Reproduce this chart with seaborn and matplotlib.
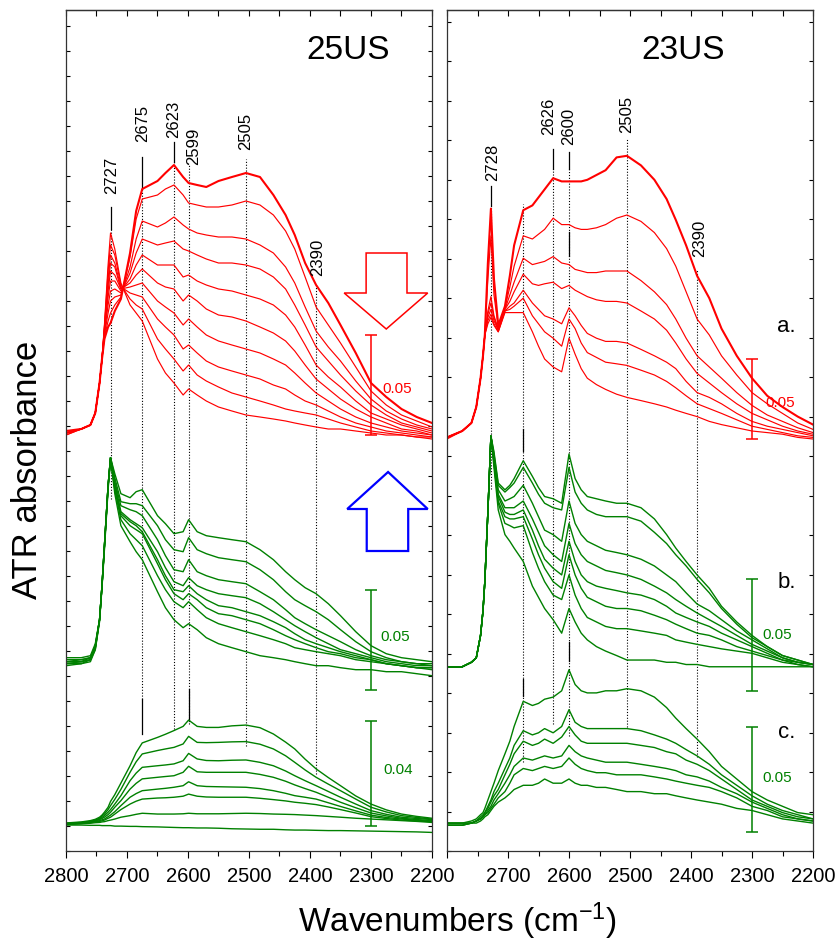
import matplotlib
matplotlib.use("Agg")
import matplotlib.pyplot as plt
from matplotlib.patches import Polygon
from matplotlib.ticker import MultipleLocator
import pandas as pd
import seaborn as sns

plt.rcParams["font.family"] = ["Liberation Sans", "DejaVu Sans"]
plt.rcParams["mathtext.fontset"] = "custom"
plt.rcParams["mathtext.rm"] = "Liberation Sans"
plt.rcParams["mathtext.it"] = "Liberation Sans:italic"

# ---------------------------------------------------------------- data
# wavenumber grids (cm-1) on which the spectra are tabulated
WN_25US = [2800, 2775, 2760, 2752, 2745, 2741, 2737, 2731, 2727, 2720, 2710, 2695,
           2685, 2675, 2650, 2637, 2623, 2608, 2599, 2585, 2570, 2550, 2528, 2505,
           2482, 2460, 2440, 2425, 2408, 2390, 2370, 2350, 2325, 2300, 2275, 2250,
           2225, 2200]
WN_23US = [2800, 2775, 2760, 2752, 2745, 2741, 2738, 2733, 2728, 2723, 2716, 2705,
           2697, 2690, 2675, 2660, 2650, 2640, 2626, 2612, 2600, 2590, 2580, 2570,
           2555, 2540, 2522, 2505, 2482, 2460, 2440, 2425, 2408, 2390, 2370, 2350,
           2325, 2300, 2275, 2250, 2225, 2200]

# ATR absorbance (x 0.001) above the baseline of each stack
ABS_25US_A = [
    [4, 5, 7, 13, 28, 40, 50, 56, 58, 64, 70, 93, 114, 125, 129, 133, 137, 131, 128, 127, 126, 129, 131, 133, 131, 122, 112, 102, 88, 77, 68, 57, 43, 28, 21, 15, 11, 8],
    [3, 5, 7, 13, 28, 40, 51, 59, 63, 67, 71, 91, 110, 120, 122, 125, 127, 122, 118, 117, 116, 116, 117, 119, 117, 112, 104, 95, 81, 66, 57, 48, 36, 24, 17, 12, 9, 6],
    [3, 5, 7, 13, 28, 40, 52, 63, 69, 71, 72, 86, 100, 109, 106, 108, 111, 107, 105, 103, 102, 101, 101, 100, 97, 93, 86, 78, 66, 54, 46, 39, 29, 20, 14, 10, 7, 5],
    [3, 5, 7, 13, 28, 40, 53, 67, 74, 75, 73, 83, 93, 100, 97, 98, 99, 95, 94, 92, 90, 88, 88, 87, 85, 81, 75, 67, 57, 46, 39, 32, 24, 17, 12, 8, 6, 4],
    [3, 5, 7, 13, 28, 40, 54, 71, 79, 79, 74, 80, 87, 92, 87, 87, 87, 81, 82, 79, 77, 75, 74, 72, 70, 67, 62, 56, 47, 37, 31, 26, 19, 13, 10, 7, 5, 3],
    [3, 5, 7, 13, 28, 40, 54, 74, 84, 82, 75, 78, 82, 85, 78, 76, 75, 69, 72, 69, 65, 62, 61, 59, 56, 53, 49, 44, 37, 30, 25, 20, 15, 11, 8, 5, 4, 2],
    [3, 5, 7, 13, 28, 40, 55, 77, 88, 86, 75, 76, 77, 78, 69, 66, 63, 57, 60, 56, 52, 49, 47, 45, 43, 40, 37, 33, 28, 23, 19, 15, 11, 8, 6, 4, 3, 2],
    [3, 5, 7, 13, 28, 40, 56, 80, 92, 88, 76, 73, 72, 71, 60, 56, 52, 45, 47, 43, 39, 36, 34, 32, 30, 27, 25, 22, 19, 17, 14, 11, 8, 6, 4, 3, 2, 1],
    [2, 5, 7, 13, 28, 40, 56, 84, 97, 92, 77, 70, 67, 65, 50, 45, 40, 34, 37, 32, 29, 26, 23, 21, 19, 17, 15, 14, 13, 12, 10, 8, 6, 4, 3, 2, 1, 1],
    [2, 5, 7, 13, 28, 40, 57, 87, 103, 95, 78, 67, 63, 59, 40, 33, 28, 22, 25, 22, 19, 16, 14, 12, 11, 10, 9, 8, 7, 6, 5, 5, 4, 3, 2, 2, 1, 0],
]
ABS_25US_B = [
    [9, 9, 10, 16, 28, 45, 65, 95, 109, 101, 91, 89, 92, 93, 80, 76, 71, 72, 78, 72, 70, 69, 68, 67, 63, 58, 52, 48, 44, 41, 36, 30, 22, 15, 11, 9, 8, 7],
    [8, 8, 9, 15, 28, 45, 65, 95, 109, 99, 87, 86, 86, 85, 75, 68, 63, 62, 69, 63, 61, 59, 58, 57, 53, 48, 42, 38, 35, 32, 28, 23, 17, 12, 9, 7, 6, 6],
    [7, 8, 9, 15, 28, 45, 65, 95, 109, 97, 85, 83, 82, 80, 68, 60, 53, 52, 58, 52, 50, 48, 47, 46, 42, 38, 33, 29, 26, 23, 20, 17, 13, 10, 8, 7, 6, 5],
    [7, 7, 9, 14, 28, 45, 65, 95, 109, 96, 82, 78, 76, 74, 62, 54, 47, 45, 49, 45, 43, 41, 40, 39, 36, 32, 28, 25, 22, 19, 16, 13, 11, 9, 7, 6, 5, 5],
    [7, 7, 8, 14, 28, 45, 65, 95, 109, 95, 81, 77, 75, 72, 58, 50, 43, 42, 45, 41, 38, 35, 34, 32, 30, 27, 24, 21, 18, 16, 14, 12, 10, 8, 6, 5, 4, 4],
    [6, 7, 8, 14, 28, 45, 65, 95, 109, 94, 80, 75, 73, 71, 56, 48, 41, 38, 41, 38, 34, 31, 30, 28, 26, 23, 20, 18, 16, 14, 12, 11, 9, 8, 6, 5, 4, 4],
    [6, 6, 8, 13, 28, 45, 64, 94, 109, 93, 78, 71, 68, 65, 50, 43, 37, 34, 37, 33, 29, 26, 24, 22, 20, 18, 16, 14, 13, 12, 11, 10, 8, 7, 6, 5, 4, 3],
    [5, 6, 7, 13, 27, 44, 63, 93, 108, 91, 75, 67, 62, 58, 42, 34, 28, 24, 26, 23, 19, 16, 14, 12, 10, 9, 8, 7, 6, 5, 5, 4, 3, 3, 2, 2, 1, 0],
]
ABS_25US_C = [
    [4.2, 4.6, 5.1, 5.6, 6.4, 7.2, 8.3, 10.2, 12.4, 15.0, 19.4, 26.0, 31.0, 34.7, 36.8, 38.0, 39.4, 41.0, 43.4, 41.0, 40.6, 40.6, 41.2, 41.5, 40.5, 38.1, 35.0, 32.4, 28.5, 24.8, 21.5, 18.4, 14.5, 11.4, 9.2, 7.6, 6.7, 6.0],
    [4.1, 4.4, 4.8, 5.3, 6.0, 6.8, 7.6, 9.3, 10.8, 13.2, 17.0, 23.5, 27.5, 30.5, 31.8, 32.4, 33.0, 34.3, 37.2, 34.9, 34.8, 34.9, 35.1, 35.2, 34.2, 32.4, 29.8, 27.3, 24.4, 21.6, 19.0, 16.5, 13.3, 10.2, 8.4, 7.0, 6.3, 5.7],
    [3.9, 4.3, 4.7, 5.2, 5.7, 6.3, 7.0, 8.3, 9.3, 11.4, 14.6, 20.3, 23.2, 25.4, 26.0, 26.3, 26.7, 27.9, 30.7, 28.6, 28.0, 27.9, 28.1, 28.2, 27.3, 26.0, 24.0, 22.2, 20.3, 18.4, 16.2, 14.0, 11.4, 8.9, 7.5, 6.4, 5.9, 5.5],
    [3.8, 4.2, 4.6, 5.0, 5.5, 5.9, 6.4, 7.4, 8.3, 10.2, 12.7, 17.1, 19.3, 21.0, 21.6, 21.9, 22.2, 23.5, 25.8, 23.7, 23.5, 23.5, 23.5, 23.5, 22.7, 21.6, 20.1, 18.7, 17.3, 15.9, 14.0, 12.1, 10.0, 8.0, 6.9, 6.0, 5.5, 5.1],
    [3.8, 4.1, 4.4, 4.8, 5.1, 5.4, 5.7, 6.6, 7.2, 8.5, 10.8, 14.0, 15.4, 16.5, 17.1, 17.4, 17.8, 18.4, 19.9, 18.4, 18.1, 18.0, 17.9, 17.8, 17.3, 16.5, 15.5, 14.6, 14.0, 13.3, 11.9, 10.5, 8.8, 7.2, 6.3, 5.7, 5.2, 4.8],
    [3.7, 4.0, 4.3, 4.6, 4.8, 5.0, 5.3, 6.0, 6.4, 7.6, 9.3, 11.4, 12.5, 13.3, 13.7, 13.8, 14.0, 14.4, 15.2, 14.4, 14.1, 14.0, 14.0, 14.0, 13.6, 13.1, 12.6, 12.1, 11.7, 11.2, 10.3, 9.3, 8.0, 6.6, 5.9, 5.3, 5.0, 4.7],
    [3.6, 3.9, 4.1, 4.3, 4.4, 4.6, 4.7, 5.1, 5.3, 5.7, 6.4, 7.0, 7.5, 7.9, 7.6, 7.6, 7.6, 7.7, 7.9, 7.7, 7.7, 7.7, 7.8, 7.9, 7.8, 7.6, 7.5, 7.4, 7.2, 7.0, 6.7, 6.4, 6.0, 5.7, 5.4, 5.1, 4.8, 4.4],
    [3.4, 3.4, 3.3, 3.3, 3.3, 3.2, 3.2, 3.2, 3.2, 3.0, 3.0, 2.9, 2.9, 2.8, 2.7, 2.6, 2.5, 2.4, 2.4, 2.3, 2.3, 2.2, 2.0, 1.9, 1.8, 1.8, 1.6, 1.5, 1.5, 1.4, 1.3, 1.3, 1.2, 1.1, 1.0, 0.9, 0.8, 0.6],
]
ABS_23US_A = [
    [1, 5, 10, 20, 38, 52, 65, 110, 144, 100, 71, 83, 102, 121, 143, 146, 151, 156, 163, 161, 161, 161, 161, 162, 165, 168, 176, 177, 171, 162, 150, 137, 121, 102, 88, 69, 52, 38, 27, 20, 14, 9],
    [1, 5, 10, 20, 38, 52, 65, 100, 127, 90, 70, 82, 95, 108, 127, 125, 128, 131, 138, 134, 134, 132, 131, 131, 132, 134, 138, 140, 136, 129, 119, 108, 92, 75, 65, 52, 40, 29, 22, 16, 10, 6],
    [1, 5, 10, 20, 38, 52, 65, 80, 89, 77, 69, 81, 90, 98, 113, 109, 110, 111, 114, 110, 109, 106, 105, 104, 104, 105, 105, 105, 99, 92, 84, 75, 63, 52, 45, 38, 29, 21, 15, 11, 7, 4],
    [1, 5, 10, 20, 38, 52, 65, 78, 85, 76, 68, 81, 86, 92, 103, 97, 96, 97, 98, 94, 96, 93, 91, 89, 87, 86, 86, 85, 80, 75, 68, 60, 50, 41, 35, 29, 22, 16, 12, 8, 5, 3],
    [1, 5, 10, 20, 38, 52, 65, 76, 81, 74, 68, 80, 83, 85, 93, 85, 81, 77, 75, 72, 82, 77, 71, 66, 63, 61, 61, 60, 56, 52, 48, 44, 36, 29, 26, 22, 16, 11, 8, 6, 4, 2],
    [1, 5, 10, 20, 38, 52, 65, 74, 78, 72, 67, 80, 81, 83, 88, 77, 72, 67, 63, 58, 75, 69, 60, 54, 51, 48, 47, 46, 43, 40, 36, 32, 27, 22, 19, 16, 12, 8, 6, 4, 2, 1],
    [0, 5, 10, 20, 38, 52, 65, 72, 76, 71, 67, 79, 79, 79, 79, 67, 58, 50, 45, 42, 63, 53, 44, 38, 34, 31, 28, 26, 24, 22, 20, 18, 16, 14, 11, 9, 7, 5, 4, 3, 1, 0],
]
ABS_23US_B = [
    [1, 1, 3, 5, 15, 26, 39, 70, 104, 97, 83, 80, 82, 85, 93, 86, 81, 77, 76, 74, 96, 85, 80, 77, 76, 75, 74, 74, 72, 67, 60, 54, 48, 42, 36, 28, 21, 15, 10, 6, 4, 2],
    [1, 1, 3, 5, 15, 26, 39, 70, 104, 96, 82, 79, 81, 83, 90, 83, 78, 74, 72, 71, 90, 79, 74, 71, 69, 68, 68, 68, 66, 61, 56, 51, 46, 40, 34, 27, 20, 14, 10, 6, 4, 2],
    [1, 1, 3, 5, 15, 26, 39, 70, 104, 94, 80, 75, 76, 77, 82, 74, 68, 62, 60, 57, 75, 65, 60, 57, 55, 53, 52, 51, 49, 46, 42, 39, 34, 29, 26, 22, 17, 13, 9, 5, 3, 2],
    [1, 1, 3, 5, 15, 26, 39, 70, 104, 94, 78, 72, 72, 72, 75, 67, 61, 55, 51, 48, 65, 56, 51, 48, 46, 44, 43, 42, 40, 37, 34, 31, 28, 25, 22, 19, 15, 11, 8, 5, 3, 2],
    [1, 1, 3, 5, 15, 26, 39, 70, 104, 93, 77, 70, 69, 69, 71, 62, 55, 49, 45, 42, 57, 48, 42, 39, 37, 36, 35, 34, 33, 31, 28, 25, 23, 21, 19, 16, 13, 10, 7, 4, 3, 2],
    [1, 1, 3, 5, 15, 26, 39, 70, 104, 92, 75, 68, 67, 67, 68, 58, 51, 45, 39, 36, 51, 42, 36, 32, 30, 28, 27, 27, 26, 24, 22, 20, 18, 16, 15, 13, 10, 8, 6, 4, 2, 1],
    [1, 1, 3, 5, 15, 26, 39, 70, 104, 92, 74, 65, 64, 63, 64, 52, 45, 39, 33, 31, 42, 33, 27, 23, 21, 19, 18, 18, 17, 16, 15, 13, 12, 11, 10, 9, 8, 7, 5, 3, 2, 1],
    [1, 1, 3, 5, 15, 26, 39, 70, 104, 90, 71, 60, 57, 54, 48, 37, 32, 27, 22, 16, 27, 21, 16, 13, 10, 8, 6, 4, 4, 4, 3, 3, 2, 2, 1, 1, 1, 1, 1, 1, 1, 1],
]
ABS_23US_C = [
    [2, 2, 3, 4, 6, 7, 9, 13, 17, 21, 27, 35, 41, 48, 60, 58, 59, 61, 62, 65, 75, 68, 65, 64, 64, 65, 65, 66, 65, 62, 57, 52, 47, 42, 36, 29, 23, 17, 13, 10, 7, 6],
    [2, 2, 2, 3, 5, 6, 7, 10, 13, 17, 21, 28, 33, 39, 46, 44, 45, 47, 45, 48, 56, 50, 48, 47, 47, 47, 47, 47, 46, 44, 42, 40, 37, 34, 30, 25, 20, 15, 11, 8, 6, 4],
    [2, 2, 2, 3, 4, 5, 7, 9, 12, 15, 18, 25, 30, 35, 41, 39, 40, 42, 40, 43, 48, 44, 41, 40, 40, 40, 40, 40, 39, 38, 36, 35, 32, 30, 27, 23, 18, 13, 10, 7, 5, 4],
    [1, 1, 2, 3, 4, 5, 6, 8, 10, 13, 16, 21, 25, 29, 33, 32, 33, 34, 33, 34, 39, 36, 34, 33, 32, 31, 31, 31, 30, 29, 28, 27, 25, 24, 22, 19, 16, 12, 9, 6, 4, 3],
    [1, 1, 2, 3, 4, 5, 6, 7, 9, 11, 14, 17, 21, 25, 28, 27, 28, 29, 28, 29, 33, 30, 28, 27, 26, 26, 25, 25, 25, 24, 23, 22, 21, 20, 19, 17, 14, 10, 8, 5, 4, 3],
    [1, 1, 2, 2, 3, 4, 5, 6, 8, 10, 12, 14, 16, 18, 20, 20, 21, 23, 21, 21, 23, 21, 20, 20, 19, 19, 18, 17, 17, 16, 16, 15, 14, 13, 12, 11, 9, 8, 6, 4, 3, 2],
]

# scale bars (absorbance)
SCALE_25US = {"a": 0.05, "b": 0.05, "c": 0.04}
SCALE_23US = {"a": 0.05, "b": 0.05, "c": 0.05}

# band positions (cm-1)
BANDS_25US = [2727, 2675, 2623, 2599, 2505, 2390]
BANDS_23US = [2728, 2675, 2626, 2600, 2505, 2390]

SAMPLES = ["25US", "23US"]
X_TICKS = [2800, 2700, 2600, 2500, 2400, 2300, 2200]

for grid, group in [(WN_25US, ABS_25US_A + ABS_25US_B + ABS_25US_C),
                    (WN_23US, ABS_23US_A + ABS_23US_B + ABS_23US_C)]:
    for spec in group:
        assert len(spec) == len(grid), (len(spec), len(grid))

# ---------------------------------------------------------------- styling
RED, GREEN, BLUE = "#ff0000", "#008000", "#0000ff"
Y_SPAN = 841.0          # vertical axis runs in screen pixels of the panel

stacks = [
    # panel, spectra, wn grid, colour, baseline, px per 0.001, widths, bar, bar bottom, bar text
    (0, ABS_25US_A, WN_25US, RED, 412.0, 2.0, (1.5, 0.85), SCALE_25US["a"], 416, (2257, 463)),
    (0, ABS_25US_B, WN_25US, GREEN, 175.3, 2.0, (1.0, 1.0), SCALE_25US["b"], 161, (2261, 215)),
    (0, ABS_25US_C, WN_25US, GREEN, 17.0, 2.625, (1.0, 1.0), SCALE_25US["c"], 25, (2256, 82)),
    (1, ABS_23US_A, WN_23US, RED, 412.0, 1.6, (1.5, 0.85), SCALE_23US["a"], 412, (2254, 449)),
    (1, ABS_23US_B, WN_23US, GREEN, 182.0, 2.24, (1.0, 1.0), SCALE_23US["b"], 160, (2259, 217)),
    (1, ABS_23US_C, WN_23US, GREEN, 23.7, 2.1, (1.0, 1.0), SCALE_23US["c"], 19, (2259, 74)),
]

# band marker geometry: label (x, y), dotted span, solid dashes
band_style = [
    {2727: ((2725, 677), (352, 622), [(622, 644)]),
     2675: ((2675, 729), (152, 662), [(662, 694), (117, 152)]),
     2623: ((2623, 733), (122, 689), [(689, 709)]),
     2599: ((2590, 706), (127, 687), [(130, 162)]),
     2505: ((2505, 721), (105, 692), []),
     2390: ((2387, 595), (77, 567), [])},
    {2728: ((2725, 690), (362, 645), [(645, 665)]),
     2675: (None, (89, 647), [(400, 422), (155, 172)]),
     2626: ((2634, 736), (127, 682), [(682, 702)]),
     2600: ((2601, 726), (115, 682), [(682, 699), (595, 619), (190, 209)]),
     2505: ((2506, 738), (124, 712), []),
     2390: ((2386, 614), (94, 582), [])},
]

fig = plt.figure(figsize=(8.4, 9.45), dpi=100)
axes = [fig.add_axes([66 / 840, 93 / 945, 366 / 840, 841 / 945]),
        fig.add_axes([447 / 840, 93 / 945, 366 / 840, 841 / 945])]

for panel, spectra, grid, color, base, gain, (lw_top, lw), bar, bar_y0, bar_txt in stacks:
    ax = axes[panel]
    rows = []
    for i, spec in enumerate(spectra):
        for w, a in zip(grid, spec):
            rows.append({"wn": w, "y": base + gain * a, "spectrum": i})
    df = pd.DataFrame(rows)
    for i, sub in df.groupby("spectrum"):
        sns.lineplot(data=sub, x="wn", y="y", ax=ax, color=color,
                     linewidth=lw_top if i == 0 else lw, sort=False,
                     estimator=None, legend=False)
    # scale bar
    length = bar * 1000 * gain
    ax.errorbar([2300], [bar_y0 + length / 2], yerr=[length / 2], color=color,
                capsize=4, elinewidth=1.1, capthick=1.1, fmt="none")
    ax.text(bar_txt[0], bar_txt[1], f"{bar:.2f}", color=color, fontsize=11,
            ha="center", va="center")

for ax, bands, styles in zip(axes, [BANDS_25US, BANDS_23US], band_style):
    for b in bands:
        lab, (d0, d1), solids = styles[b]
        ax.plot([b, b], [d0, d1], color="black", lw=0.8, ls=(0, (1, 1.6)), zorder=1)
        for s0, s1 in solids:
            ax.plot([b, b], [s0, s1], color="black", lw=0.9, zorder=1)
        if lab is not None:
            ax.text(lab[0], lab[1], str(b), rotation=90, fontsize=12,
                    ha="center", va="center")

# sample names and stack letters
axes[0].text(2338, 802, SAMPLES[0], fontsize=24, ha="center", va="center")
axes[1].text(2413, 802, SAMPLES[1], fontsize=24, ha="center", va="center")
for letter, yy in zip(["a.", "b.", "c."], [525, 270, 119]):
    axes[1].text(2243, yy, letter, fontsize=16, ha="center", va="center")

# direction arrows
down = [(2308, 598), (2241, 598), (2241, 558), (2207, 558), (2275, 522),
        (2344, 558), (2308, 558)]
up = [(2307, 300), (2239, 300), (2239, 342), (2207, 342), (2272, 379),
      (2339, 342), (2307, 342)]
axes[0].add_patch(Polygon(down, closed=True, fill=False, edgecolor=RED, lw=1.1))
axes[0].add_patch(Polygon(up, closed=True, fill=False, edgecolor=BLUE, lw=1.6))

for k, ax in enumerate(axes):
    ax.set_xlim(2800, 2200)
    ax.set_ylim(0, Y_SPAN)
    ax.set_xlabel("")
    ax.set_ylabel("")
    ax.xaxis.set_major_locator(MultipleLocator(100))
    ax.xaxis.set_minor_locator(MultipleLocator(50))
    ax.yaxis.set_major_locator(MultipleLocator(25 if k == 0 else 39.5))
    # bottom ticks point outwards, the others inwards
    ax.tick_params(axis="x", which="both", direction="out", top=False, bottom=True,
                   width=0.8)
    ax.tick_params(axis="x", which="major", length=5, labelsize=14.5, pad=5.5)
    ax.tick_params(axis="x", which="minor", length=3.5)
    ax.tick_params(axis="y", which="major", direction="in", length=3, left=True,
                   right=True, labelleft=False, width=0.8)
    ax.set_xticks(X_TICKS)
    ax.set_xticklabels([str(t) if (k == 0 or t != 2800) else "" for t in X_TICKS])
    top = ax.secondary_xaxis("top")
    top.xaxis.set_major_locator(MultipleLocator(100))
    top.xaxis.set_minor_locator(MultipleLocator(50))
    top.tick_params(axis="x", which="both", direction="in", length=4, width=0.8,
                    labeltop=False)
    top.spines["top"].set_linewidth(0.9)
    top.spines["top"].set_color("#333333")
    for sp in ax.spines.values():
        sp.set_linewidth(0.9)
        sp.set_color("#333333")

fig.text(28 / 840, 1 - 470 / 945, "ATR absorbance", rotation=90, fontsize=25,
         ha="center", va="center")
fig.text(458 / 840, 1 - 921 / 945, "Wavenumbers (cm$^{-1}$)", fontsize=24,
         ha="center", va="center")

fig.savefig("out.png", dpi=100)
